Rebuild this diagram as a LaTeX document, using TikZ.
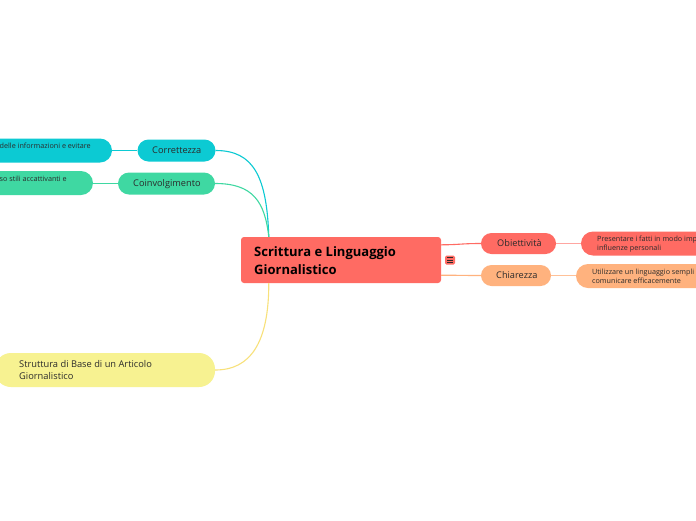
\documentclass[tikz,border=0pt]{standalone}
\usepackage{fontspec}
\setmainfont{Open Sans}
\usetikzlibrary{calc}
\definecolor{cred}{HTML}{FF6B63}
\definecolor{cpeach}{HTML}{FFB27E}
\definecolor{cteal}{HTML}{0CCAD3}
\definecolor{cgreen}{HTML}{3FD8A2}
\definecolor{cyellow}{HTML}{F7F291}
\definecolor{ctext}{HTML}{2B2B2B}
\tikzset{
  pill/.style={draw=none, rounded corners=#1, inner sep=0pt},
  lbl/.style={anchor=west, inner sep=0pt, text=ctext, align=left},
  link/.style={line width=1.1pt},
}
\begin{document}
\begin{tikzpicture}[x=1pt,y=-1pt]
\useasboundingbox (0,0) rectangle (696,520);
\fill[white] (0,0) rectangle (696,520);
\clip (0,0) rectangle (696,520);

% central
\node[pill=3pt, fill=cred, minimum width=200pt, minimum height=46pt] (root) at (341,260) {};
\node[lbl, font=\fontsize{13}{18}\selectfont\bfseries, text=black] (roott) at (254,261) {Scrittura e Linguaggio\\Giornalistico};

% icon
\node[pill=1.5pt, fill=cred, minimum width=10pt, minimum height=9pt] (icon) at (450,260) {};
\draw[ctext, line width=0.7pt] (447,257.5) -- (453,257.5) (447,260) -- (453,260) (447,262.5) -- (453,262.5);

% right branch
\node[pill=10.5pt, fill=cred, minimum width=75pt, minimum height=21pt] (obi) at (518.5,243.5) {};
\node[lbl, font=\fontsize{9.2}{11}\selectfont] (obit) at (497,243.5) {Obiettività};
\node[pill=12pt, fill=cred, minimum width=160pt, minimum height=24pt] (obid) at (661,243.5) {};
\node[lbl, font=\fontsize{7.2}{9}\selectfont] (obidt) at (597,244.5) {Presentare i fatti in modo imp\\influenze personali};

\node[pill=10.5pt, fill=cpeach, minimum width=70pt, minimum height=21pt] (chi) at (516,275.5) {};
\node[lbl, font=\fontsize{9.2}{11}\selectfont] (chit) at (496,275.5) {Chiarezza};
\node[pill=12pt, fill=cpeach, minimum width=160pt, minimum height=24pt] (chid) at (656,276) {};
\node[lbl, font=\fontsize{7.2}{9}\selectfont] (chidt) at (592,276.5) {Utilizzare un linguaggio sempli\\comunicare efficacemente};

% left branch
\node[pill=11pt, fill=cteal, minimum width=78pt, minimum height=22pt] (cor) at (176.5,150.5) {};
\node[lbl, font=\fontsize{9.2}{11}\selectfont] (cort) at (152,150.5) {Correttezza};
\node[pill=12pt, fill=cteal, minimum width=160pt, minimum height=24pt] (cord) at (32,150.5) {};
\node[lbl, font=\fontsize{7.2}{8}\selectfont] (cordt) at (-0.5,146) {delle informazioni e evitare};

\node[pill=11pt, fill=cgreen, minimum width=97pt, minimum height=22pt] (coi) at (166.5,183.5) {};
\node[lbl, font=\fontsize{9.2}{11}\selectfont] (coit) at (133,184) {Coinvolgimento};
\node[pill=12pt, fill=cgreen, minimum width=160pt, minimum height=24pt] (coid) at (13,183) {};
\node[lbl, font=\fontsize{7.2}{8}\selectfont] (coidt) at (-0.5,178.5) {so stili accattivanti e};

\node[pill=16pt, fill=cyellow, minimum width=220pt, minimum height=34pt] (str) at (105,370) {};
\node[lbl, font=\fontsize{9.3}{12}\selectfont] (strt) at (19,370.5) {Struttura di Base di un Articolo\\Giornalistico};

% connectors
\coordinate (rt) at ($(root.north west)+(28,0)$);
\coordinate (rb) at ($(root.south west)+(28,0)$);
\coordinate (rr1) at ($(root.north east)+(0,8)$);
\coordinate (rr2) at ($(root.south east)+(0,-8)$);
\draw[link, cteal] (rt) .. controls +(-2,-60) and +(38,0) .. (cor.east);
\draw[link, cgreen] (rt) .. controls +(-4,-35) and +(38,0) .. (coi.east);
\draw[link, cyellow!85!orange] (rb) .. controls +(0,60) and +(35,0) .. (str.east);
\draw[link, cred] (rr1) .. controls +(18,0) and +(-20,0) .. (obi.west);
\draw[link, cpeach] (rr2) .. controls +(18,0) and +(-20,0) .. (chi.west);
\draw[link, cred!60] (obi.east) -- (obid.west |- obi.east);
\draw[link, cpeach!80] (chi.east) -- (chid.west |- chi.east);
\draw[link, cteal] (cor.west) -- (cord.east |- cor.west);
\draw[link, cgreen] (coi.west) -- (coid.east |- coi.west);
\end{tikzpicture}
\end{document}
